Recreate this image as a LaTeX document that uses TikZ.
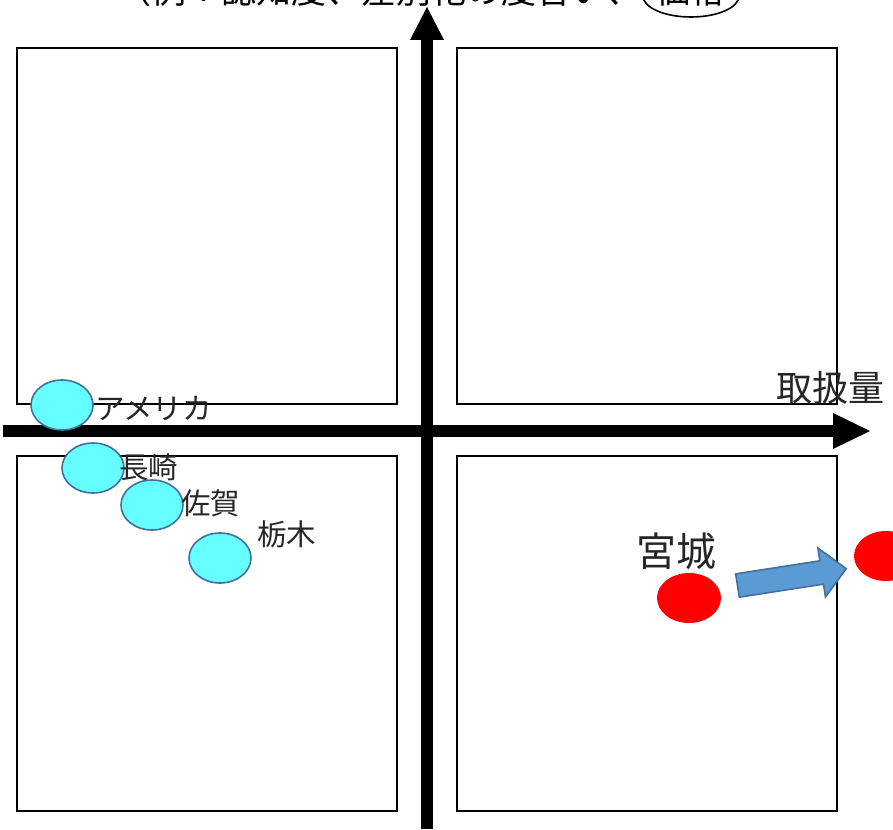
\documentclass[tikz,border=0pt]{standalone}
\usepackage{fontspec}
\newfontfamily\jp{Noto Sans CJK JP}
\usetikzlibrary{shapes.geometric,shapes.arrows}
\definecolor{cyanfill}{HTML}{66FFFF}
\definecolor{blueedge}{HTML}{41719C}
\definecolor{bluefill}{HTML}{5B9BD5}
\begin{document}
\begin{tikzpicture}[x=1pt,y=-1pt,
  quad/.style={draw=black,line width=1.8pt},
  axis/.style={line width=12pt,draw=black},
  tip/.style={fill=black},
  cyandot/.style={ellipse,draw=blueedge,line width=1.6pt,fill=cyanfill,minimum width=62pt,minimum height=50pt,inner sep=0pt},
  reddot/.style={ellipse,fill=red,minimum width=64pt,minimum height=50pt,inner sep=0pt},
  lab/.style={font=\jp\fontsize{29.5}{32}\selectfont,inner sep=0pt,anchor=west,text=black!85}
]
\useasboundingbox (0,0) rectangle (893,829);
% quadrant boxes
\draw[quad] (17,48) rectangle (397,404);
\draw[quad] (457,48) rectangle (837,404);
\draw[quad] (17,456) rectangle (397,811);
\draw[quad] (457,456) rectangle (837,811);
% axes
\coordinate (vb) at (427,829);
\coordinate (vt) at (427,38);
\coordinate (hl) at (3,431);
\coordinate (hr) at (836,431);
\draw[axis] (vb) -- (vt);
\draw[axis] (hl) -- (hr);
\fill[tip] (410,40) -- (427,7) -- (444,40) -- cycle;
\fill[tip] (833,413) -- (870,431) -- (833,449) -- cycle;
% top caption (cut off)
\node[font=\jp\fontsize{35}{38}\selectfont,anchor=base east,inner sep=0pt] (cap) at (642,4) {（例：認知度、差別化の度合い、};
\node[font=\jp\fontsize{34}{36}\selectfont,anchor=base,inner sep=0pt] (price) at (690,4) {価格};
\draw[line width=1.6pt] (691,-4) ellipse (48pt and 21pt);
% axis label
\node[font=\jp\fontsize{36}{38}\selectfont,inner sep=0pt,text=black!85] (xlab) at (830,388) {取扱量};
% cyan dots
\node[cyandot] (usa) at (62,405) {};
\node[cyandot] (ngs) at (93,468) {};
\node[cyandot] (sag) at (152,505) {};
\node[cyandot] (tcg) at (220,558) {};
\node[lab] (usal) at (95,408) {アメリカ};
\node[lab] (ngsl) at (119,467) {長崎};
\node[lab] (sagl) at (181,503) {佐賀};
\node[lab] (tcgl) at (257,534) {栃木};
% red dots
\node[reddot] (myg) at (689,598) {};
\node[reddot] (myg2) at (886,556) {};
\node[font=\jp\fontsize{40}{42}\selectfont,inner sep=0pt,text=black!85] (mygl) at (676,551) {宮城};
% block arrow
\node[single arrow,draw=blueedge,line width=1.6pt,fill=bluefill,minimum height=110pt,minimum width=48pt,single arrow head extend=13pt,inner xsep=0pt,inner ysep=11pt,text width=0pt,text height=0pt,text depth=0pt,rotate=8.8] (mv) at (786,578) {};
\end{tikzpicture}
\end{document}
